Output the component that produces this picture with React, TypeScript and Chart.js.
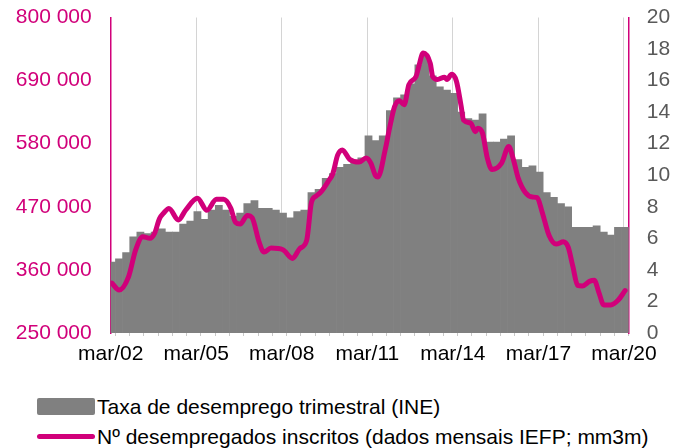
import React, { useEffect, useRef } from "react";
import { Chart, registerables } from "chart.js";

Chart.register(...registerables);

const PINK = "#D1007A";
const BAR_GRAY = "#808080";
const FONT = "'Liberation Sans', Arial, Helvetica, sans-serif";

// Quarterly unemployment rate (INE), Q1 2002 .. Q1 2020, right axis (%)
const quarterLabels = [
  "1T02","2T02","3T02","4T02","1T03","2T03","3T03","4T03","1T04","2T04","3T04","4T04",
  "1T05","2T05","3T05","4T05","1T06","2T06","3T06","4T06","1T07","2T07","3T07","4T07",
  "1T08","2T08","3T08","4T08","1T09","2T09","3T09","4T09","1T10","2T10","3T10","4T10",
  "1T11","2T11","3T11","4T11","1T12","2T12","3T12","4T12","1T13","2T13","3T13","4T13",
  "1T14","2T14","3T14","4T14","1T15","2T15","3T15","4T15","1T16","2T16","3T16","4T16",
  "1T17","2T17","3T17","4T17","1T18","2T18","3T18","4T18","1T19","2T19","3T19","4T19",
  "1T20",
];
const unemploymentRate = [
  4.5, 4.7, 5.1, 6.1, 6.4, 6.3, 6.4, 6.6, 6.4, 6.4, 6.9, 7.1,
  7.7, 7.2, 7.8, 8.1, 7.8, 7.4, 7.6, 8.2, 8.4, 7.9, 7.9, 7.8,
  7.6, 7.3, 7.7, 7.8, 8.9, 9.1, 9.8, 10.1, 10.5, 10.7, 10.9, 11.1,
  12.5, 12.2, 12.5, 14.1, 14.9, 15.1, 15.8, 17.0, 17.6, 16.3, 15.6, 15.4,
  15.2, 14.0, 13.6, 13.5, 13.9, 12.1, 12.1, 12.3, 12.5, 11.0, 10.5, 10.6,
  10.2, 8.9, 8.6, 8.2, 8.0, 6.7, 6.7, 6.7, 6.8, 6.4, 6.2, 6.7,
  6.7,
];

// Registered unemployed (IEFP, monthly, 3-month moving average), left axis
// month index: 0 = mar/02
const lineMonths = [
  0, 3, 7, 10, 13, 16, 18, 20, 22, 24, 28, 31, 36, 40, 44, 47, 50, 52, 54, 57,
  59, 62, 64, 67, 72, 76, 79, 82, 84, 86, 88, 91, 93, 95, 97, 100, 104, 107, 109, 111,
  112, 115, 117, 119, 121, 123, 125, 128, 129, 131, 134, 135, 137, 140, 141, 143, 145, 147, 148, 151,
  153, 154, 156, 158, 160, 164, 167, 169, 171, 174, 177, 179, 181, 184, 187, 190, 192, 194, 196, 198,
  201, 203, 205, 207, 210, 213, 216,
];
const registeredUnemployed = [
  337000, 325000, 348000, 395000, 418000, 415000, 424000, 449000, 460000, 467000, 447000, 464000, 485000, 464000, 483000, 483000, 468000, 443000, 440000, 455000,
  451000, 408000, 391000, 398000, 395000, 380000, 397000, 412000, 478000, 489000, 496000, 514000, 528000, 560000, 569000, 553000, 548000, 555000, 546000, 524000,
  522000, 569000, 610000, 645000, 655000, 648000, 683000, 697000, 712000, 738000, 720000, 697000, 692000, 696000, 692000, 701000, 689000, 645000, 621000, 616000,
  601000, 607000, 598000, 555000, 535000, 546000, 575000, 552000, 520000, 495000, 487000, 486000, 462000, 420000, 405000, 409000, 400000, 366000, 333000, 332000,
  340000, 342000, 320000, 299000, 299000, 307000, 324000,
];

// x axis (months since mar/02)
const xMax = 218;
const xTickLabels = ["mar/02", "mar/05", "mar/08", "mar/11", "mar/14", "mar/17", "mar/20"];
const labelEvery = 36;
const minorTickMonths = [2, 8, 14, 20, 26, 32, 38, 44, 50, 56, 62, 68, 74, 80, 86, 92, 98, 104, 110, 116, 122, 128, 134, 140, 146, 152, 158, 164, 170, 176, 182, 188, 194, 200, 206, 212, 218];

const leftMin = 250000;
const leftMax = 800000;
const leftStep = 110000;
const rightMin = 0;
const rightMax = 20;
const rightStep = 2;

const barLabel = "Taxa de desemprego trimestral (INE)";
const lineLabel = "Nº desempregados inscritos (dados mensais IEFP; mm3m)";

const CANVAS_W = 683;
const CANVAS_H = 375;
const PLOT_LEFT = 110.7;
const PLOT_RIGHT = 628.7;
const TOP_PAD = 17.5;
const PLOT_BOTTOM = 333;

function fmt(v: number) {
  return String(Math.round(v)).replace(/\B(?=(\d{3})+(?!\d))/g, " ");
}

export default function App() {
  const ref = useRef<HTMLCanvasElement | null>(null);

  useEffect(() => {
    if (!ref.current) return;
    const chart = new Chart(ref.current, {
      type: "bar",
      data: {
        datasets: [
          {
            type: "line",
            label: lineLabel,
            data: lineMonths.map((m, i) => ({ x: m + 0.5, y: registeredUnemployed[i] })),
            yAxisID: "yL",
            xAxisID: "x",
            borderColor: PINK,
            backgroundColor: PINK,
            borderWidth: 5,
            pointRadius: 0,
            cubicInterpolationMode: "monotone",
            borderCapStyle: "round",
            borderJoinStyle: "round",
            order: 0,
          } as any,
          {
            type: "bar",
            label: barLabel,
            data: unemploymentRate.map((v, q) => ({ x: 3 * q + 0.5, y: v, q: quarterLabels[q] })),
            yAxisID: "yR",
            xAxisID: "x",
            backgroundColor: BAR_GRAY,
            borderWidth: 0,
            barPercentage: 1,
            categoryPercentage: 1,
            order: 1,
          } as any,
        ],
      },
      options: {
        responsive: false,
        animation: false,
        devicePixelRatio: 1,
        layout: { padding: { top: TOP_PAD, left: 0, right: 0, bottom: 0 } },
        plugins: { legend: { display: false }, tooltip: { enabled: false } },
        scales: {
          x2: {
            type: "linear",
            position: "bottom",
            weight: 0,
            min: 0,
            max: xMax,
            offset: false,
            afterBuildTicks: (s: any) => {
              s.ticks = minorTickMonths.map((v) => ({ value: v }));
            },
            afterFit: (s: any) => {
              s.height = 0;
              s.paddingLeft = 0;
              s.paddingRight = 0;
            },
            ticks: { display: false },
            grid: {
              display: true,
              offset: false,
              drawOnChartArea: false,
              drawTicks: true,
              tickLength: 3,
              tickColor: "#c8c8c8",
              tickWidth: 1,
            },
            border: { display: false },
          },
          x: {
            type: "linear",
            position: "bottom",
            weight: 1,
            min: 0,
            max: xMax,
            offset: false,
            afterBuildTicks: (s: any) => {
              s.ticks = xTickLabels.map((_, i) => ({ value: i * labelEvery }));
            },
            afterFit: (s: any) => {
              s.height = CANVAS_H - PLOT_BOTTOM;
              s.paddingLeft = 0;
              s.paddingRight = 0;
            },
            ticks: {
              autoSkip: false,
              maxRotation: 0,
              minRotation: 0,
              padding: 9,
              color: "#000000",
              font: { family: FONT, size: 21 },
              callback: (v: any) => {
                const n = Number(v);
                return n % labelEvery === 0 ? xTickLabels[n / labelEvery] : "";
              },
            },
            grid: {
              offset: false,
              drawTicks: false,
              lineWidth: 1,
              color: (ctx: any) =>
                ctx.tick && ctx.tick.value > 0 ? "#d4d4d4" : "rgba(0,0,0,0)",
            },
            border: { display: false },
          },
          yL: {
            type: "linear",
            position: "left",
            min: leftMin,
            max: leftMax,
            afterFit: (s: any) => {
              s.width = PLOT_LEFT;
              s.paddingTop = 0;
              s.paddingBottom = 0;
            },
            ticks: {
              stepSize: leftStep,
              padding: 19,
              color: PINK,
              font: { family: FONT, size: 21 },
              callback: (v: any) => fmt(Number(v)),
            },
            grid: { display: false, drawTicks: false },
            border: { display: true, color: PINK, width: 1.5 },
          },
          yR: {
            type: "linear",
            position: "right",
            min: rightMin,
            max: rightMax,
            afterFit: (s: any) => {
              s.width = CANVAS_W - PLOT_RIGHT;
              s.paddingTop = 0;
              s.paddingBottom = 0;
            },
            ticks: {
              stepSize: rightStep,
              padding: 18,
              color: "#595959",
              font: { family: FONT, size: 21 },
            },
            grid: { display: false, drawTicks: false },
            border: { display: true, color: PINK, width: 1.5 },
          },
        },
      } as any,
    });
    return () => chart.destroy();
  }, []);

  const textStyle: React.CSSProperties = {
    position: "absolute",
    left: 97,
    fontFamily: FONT,
    fontSize: 21,
    lineHeight: "24px",
    color: "#000",
    whiteSpace: "nowrap",
    margin: 0,
  };

  return (
    <div
      style={{
        position: "fixed",
        left: 0,
        top: 0,
        width: CANVAS_W,
        height: 448,
        background: "#fff",
        overflow: "hidden",
      }}
    >
      <canvas ref={ref} width={CANVAS_W} height={CANVAS_H} style={{ display: "block", width: CANVAS_W, height: CANVAS_H }} />
      <div style={{ position: "absolute", left: 37, top: 398, width: 58, height: 17, background: BAR_GRAY, borderRadius: 2 }} />
      <div style={{ ...textStyle, top: 395 }}>{barLabel}</div>
      <div style={{ position: "absolute", left: 37, top: 434, width: 58, height: 5, background: PINK, borderRadius: 3 }} />
      <div style={{ ...textStyle, top: 425 }}>{lineLabel}</div>
    </div>
  );
}
